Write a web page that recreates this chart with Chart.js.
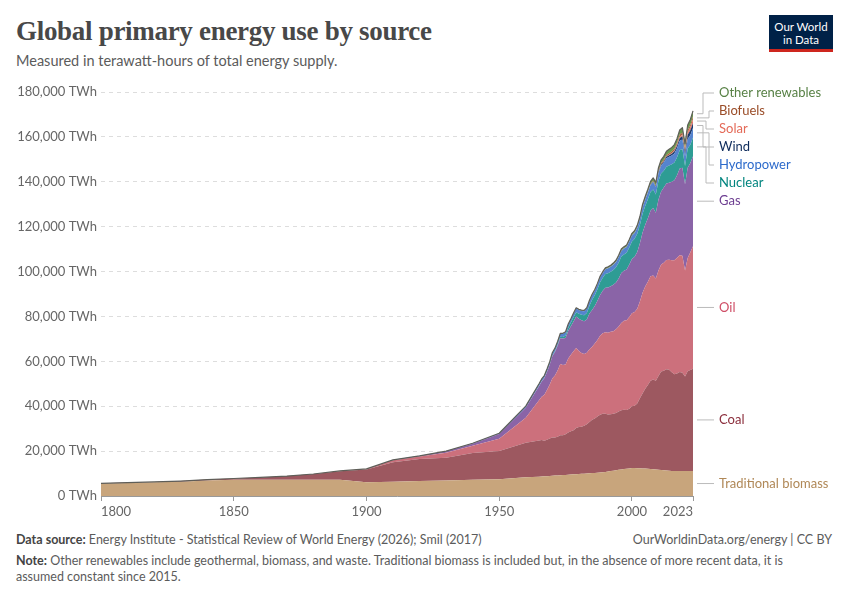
<!DOCTYPE html>
<html>
<head>
<meta charset="utf-8">
<script src="https://cdn.jsdelivr.net/npm/chart.js@4.4.1/dist/chart.umd.min.js"></script>
<style>
  body { margin: 0; background: #fff; font-family: Lato, sans-serif; }
  #page { position: relative; width: 850px; height: 600px; overflow: hidden; }
  #title { position: absolute; left: 16px; top: 16px; font-family: 'Liberation Serif', serif; font-weight: bold; font-size: 27px; color: #484848; letter-spacing: -0.3px; }
  #subtitle { position: absolute; left: 16px; top: 52px; font-size: 14.5px; color: #5b5b5b; }
  #logo { position: absolute; left: 769px; top: 15px; width: 64px; background: #002147; border-bottom: 3px solid #ce261e; color: #fff; font-size: 11.5px; line-height: 13px; text-align: center; padding-top: 5px; height: 29px; }
  #wrap { position: absolute; left: 0; top: 76px; }
  #source { position: absolute; left: 16px; top: 532px; font-size: 12.5px; color: #5b5b5b; }
  #url { position: absolute; right: 18px; top: 532px; font-size: 12.5px; color: #5b5b5b; }
  #note { position: absolute; left: 16px; top: 553px; width: 810px; font-size: 12.5px; line-height: 16px; color: #5b5b5b; }
  b { color: #444; }
</style>
</head>
<body>
<div id="page">
  <div id="title">Global primary energy use by source</div>
  <div id="subtitle">Measured in terawatt-hours of total energy supply.</div>
  <div id="logo">Our World<br>in Data</div>
  <div id="wrap"><canvas id="energyChart" width="850" height="445"></canvas></div>
  <div id="source"><b>Data source:</b> Energy Institute - Statistical Review of World Energy (2026); Smil (2017)</div>
  <div id="url">OurWorldinData.org/energy | CC BY</div>
  <div id="note"><b>Note:</b> Other renewables include geothermal, biomass, and waste. Traditional biomass is included but, in the absence of more recent data, it is assumed constant since 2015.</div>
</div>
<script>
// years: decadal (Smil) to 1960, then annual
const years = [1800, 1810, 1820, 1830, 1840, 1850, 1860, 1870, 1880, 1890, 1900, 1910, 1920, 1930, 1940, 1950, 1960,
  1965, 1966, 1967, 1968, 1969, 1970, 1971, 1972, 1973, 1974,
  1975, 1976, 1977, 1978, 1979, 1980, 1981, 1982, 1983, 1984,
  1985, 1986, 1987, 1988, 1989, 1990, 1991, 1992, 1993, 1994,
  1995, 1996, 1997, 1998, 1999, 2000, 2001, 2002, 2003, 2004,
  2005, 2006, 2007, 2008, 2009, 2010, 2011, 2012, 2013, 2014,
  2015, 2016, 2017, 2018, 2019, 2020, 2021, 2022, 2023];

// TWh
const tradBiomass = [5556, 5833, 6111, 6389, 6944, 7222, 7222, 7222, 7222, 7222, 6111, 6389, 6667, 6944, 7222, 7500, 8333,
  8600, 8680, 8760, 8840, 8920, 9000, 9080, 9160, 9240, 9320,
  9400, 9480, 9560, 9640, 9720, 9800, 9880, 9960, 10040, 10120,
  10200, 10300, 10400, 10500, 10600, 10700, 10900, 11100, 11300, 11500,
  11700, 11850, 12000, 12150, 12300, 12500, 12450, 12400, 12350, 12300,
  12200, 12100, 12000, 11900, 11800, 11700, 11600, 11500, 11400, 11250,
  11100, 11100, 11100, 11100, 11100, 11100, 11100, 11100, 11100];
const coal = [97, 128, 153, 264, 356, 569, 1061, 1642, 2542, 3856, 5728, 8656, 9833, 10122, 11889, 12603, 15442,
  16140, 16300, 15900, 16200, 16700, 17100, 17000, 17200, 17800, 17800,
  18100, 18800, 19300, 19600, 20600, 20900, 21000, 21300, 21900, 22800,
  23800, 24200, 25000, 25700, 26000, 25900, 25400, 25300, 25400, 25500,
  25900, 26400, 26400, 26200, 26600, 27500, 27800, 28800, 31200, 33400,
  35600, 37400, 39300, 40000, 39500, 41800, 43900, 44300, 45100, 45000,
  44000, 43200, 43500, 44200, 43800, 42100, 44500, 45000, 45600];
const oil = [0, 0, 0, 0, 0, 0, 0, 6, 33, 77, 181, 889, 1111, 2222, 3333, 5444, 11117,
  17900, 19200, 20500, 22200, 24000, 26300, 27600, 29600, 31800, 31300,
  31100, 33000, 34100, 35300, 35600, 33900, 32800, 32000, 31900, 32500,
  32500, 33400, 34100, 35200, 35900, 36400, 36400, 36800, 36700, 37300,
  37900, 38800, 39700, 39900, 40900, 41400, 41700, 42200, 43100, 44900,
  45500, 46000, 46600, 46300, 45600, 47000, 47600, 48100, 48700, 49000,
  49900, 50700, 51500, 52000, 52100, 47300, 50400, 52500, 54600];
const gas = [0, 0, 0, 0, 0, 0, 0, 0, 0, 0, 64, 161, 233, 603, 875, 2092, 4472,
  6300, 6800, 7300, 8000, 8700, 9900, 10500, 11000, 11500, 11700,
  11800, 12400, 12700, 13200, 14000, 14400, 14600, 14600, 14800, 15900,
  16400, 16700, 17500, 18200, 19000, 19800, 20200, 20300, 20700, 20800,
  21400, 22300, 22300, 22700, 23300, 24200, 24600, 25300, 26000, 26800,
  27500, 28200, 29200, 30100, 29300, 31600, 32600, 33500, 34000, 34300,
  35000, 35700, 36800, 38600, 39200, 38400, 40300, 39800, 40100];
const nuclear = [0, 0, 0, 0, 0, 0, 0, 0, 0, 0, 0, 0, 0, 0, 0, 0, 0,
  76, 100, 120, 160, 190, 240, 340, 480, 610, 770,
  1150, 1300, 1600, 1900, 1970, 2150, 2440, 2660, 2950, 3500,
  4550, 4850, 5150, 5600, 5750, 6060, 6350, 6400, 6600, 6800,
  7060, 7320, 7250, 7400, 7650, 7820, 8050, 8150, 8050, 8410,
  8390, 8480, 8330, 8300, 8120, 8390, 8030, 7480, 7540, 7700,
  7790, 7910, 8000, 8180, 8450, 8150, 8480, 8120, 8300];
const hydro = [0, 0, 0, 0, 0, 0, 0, 0, 0, 0, 0, 30, 60, 130, 190, 330, 690,
  920, 960, 990, 1040, 1100, 1170, 1210, 1270, 1310, 1420,
  1430, 1460, 1500, 1620, 1700, 1740, 1760, 1810, 1900, 1960,
  2000, 2030, 2050, 2110, 2100, 2160, 2220, 2230, 2350, 2380,
  2480, 2530, 2590, 2600, 2630, 2650, 2600, 2650, 2640, 2800,
  2920, 3030, 3080, 3250, 3250, 3440, 3500, 3660, 3780, 3890,
  3880, 4020, 4060, 4180, 4230, 4350, 4270, 4330, 4210];
const wind = [0, 0, 0, 0, 0, 0, 0, 0, 0, 0, 0, 0, 0, 0, 0, 0, 0,
  0, 0, 0, 0, 0, 0, 0, 0, 0, 0,
  0, 0, 0, 0, 0, 0, 0, 0, 0, 0,
  0, 0, 0, 0, 0, 4, 4, 5, 6, 7,
  8, 9, 12, 16, 21, 31, 38, 52, 63, 85,
  104, 133, 171, 220, 277, 346, 437, 523, 640, 712,
  831, 962, 1140, 1270, 1420, 1590, 1850, 2100, 2330];
const solar = [0, 0, 0, 0, 0, 0, 0, 0, 0, 0, 0, 0, 0, 0, 0, 0, 0,
  0, 0, 0, 0, 0, 0, 0, 0, 0, 0,
  0, 0, 0, 0, 0, 0, 0, 0, 0, 0,
  0, 0, 0, 0, 0, 0, 0, 0, 0, 0,
  0, 0, 0, 0, 0, 1, 1, 2, 2, 3,
  4, 6, 8, 12, 20, 34, 65, 100, 137, 190,
  256, 330, 450, 580, 700, 850, 1030, 1310, 1630];
const biofuels = [0, 0, 0, 0, 0, 0, 0, 0, 0, 0, 0, 0, 0, 0, 0, 0, 0,
  0, 0, 0, 0, 0, 0, 0, 0, 0, 0,
  5, 8, 10, 15, 20, 30, 40, 50, 60, 70,
  80, 85, 90, 90, 95, 100, 100, 100, 100, 100,
  105, 105, 105, 110, 110, 110, 120, 135, 160, 180,
  200, 250, 330, 420, 480, 560, 590, 600, 650, 720,
  760, 780, 820, 900, 980, 920, 1000, 1100, 1200];
const otherRenewables = [0, 0, 0, 0, 0, 0, 0, 0, 0, 0, 0, 0, 0, 0, 0, 0, 0,
  100, 105, 110, 115, 120, 130, 140, 150, 160, 170,
  180, 190, 200, 215, 230, 250, 270, 290, 320, 350,
  380, 410, 440, 470, 500, 530, 560, 590, 620, 650,
  680, 710, 740, 770, 800, 830, 860, 900, 950, 1000,
  1050, 1110, 1170, 1230, 1300, 1400, 1480, 1560, 1640, 1720,
  1800, 1880, 1960, 2050, 2150, 2200, 2350, 2400, 2500];

const xTicks = [1800, 1850, 1900, 1950, 2000, 2023];
const yTicks = [0, 20000, 40000, 60000, 80000, 100000, 120000, 140000, 160000, 180000];

const seriesNames = ['Traditional biomass', 'Coal', 'Oil', 'Gas', 'Nuclear', 'Hydropower', 'Wind', 'Solar', 'Biofuels', 'Other renewables'];
const seriesData = [tradBiomass, coal, oil, gas, nuclear, hydro, wind, solar, biofuels, otherRenewables];
const areaColors = ['#C8A57C', '#9D5860', '#CC707C', '#8A64A7', '#2E9C94', '#5584CF', '#1F3B6B', '#E8786C', '#A9633F', '#6B9A4F'];
const labelColors = ['#B08857', '#8B2E3C', '#CF4E66', '#6D3E91', '#00847E', '#2C6ACB', '#0F2C5C', '#E46A58', '#9A4C27', '#578145'];

const datasets = seriesNames.map((name, i) => ({
  label: name,
  data: years.map((yr, j) => ({ x: yr, y: seriesData[i][j] })),
  backgroundColor: areaColors[i],
  borderWidth: 0,
  pointRadius: 0,
  tension: 0,
  fill: i === 0 ? 'origin' : '-1'
}));

// dark outline along the top of the stack + right-hand labels
const topOutline = {
  id: 'topOutline',
  afterDatasetsDraw(chart) {
    const pts = chart.getDatasetMeta(seriesNames.length - 1).data;
    const ctx = chart.ctx;
    ctx.save();
    ctx.beginPath();
    pts.forEach((p, i) => i ? ctx.lineTo(p.x, p.y) : ctx.moveTo(p.x, p.y));
    ctx.strokeStyle = '#5e5e58';
    ctx.lineWidth = 1.2;
    ctx.lineJoin = 'round';
    ctx.stroke();
    ctx.restore();
  }
};

const endLabels = {
  id: 'endLabels',
  afterDraw(chart) {
    const ctx = chart.ctx, area = chart.chartArea, ys = chart.scales.y;
    const last = years.length - 1;
    const items = seriesNames.map((name, i) => {
      const top = chart.getDatasetMeta(i).data[last].y;
      const bottom = i === 0 ? ys.getPixelForValue(0) : chart.getDatasetMeta(i - 1).data[last].y;
      return { text: name, color: labelColors[i], target: (top + bottom) / 2 };
    });
    const gap = 18;
    let prev = Infinity;
    items.forEach(it => { it.y = Math.min(it.target, prev - gap); prev = it.y; });
    let lim = area.top + 1;
    for (let i = items.length - 1; i >= 0; i--) { items[i].y = Math.max(items[i].y, lim); lim = items[i].y + gap; }

    const x0 = area.right + 4, xl = area.right + 26;
    ctx.save();
    ctx.font = '13px Lato';
    ctx.textBaseline = 'middle';
    items.forEach((it, i) => {
      ctx.beginPath();
      ctx.strokeStyle = '#bbbbbb';
      ctx.lineWidth = 1;
      if (Math.abs(it.y - it.target) < 1) {
        ctx.moveTo(x0, it.y); ctx.lineTo(xl - 5, it.y);
      } else {
        const mid = x0 + 6 + (i % 3) * 3;
        ctx.moveTo(x0, it.target); ctx.lineTo(mid, it.target);
        ctx.lineTo(mid, it.y); ctx.lineTo(xl - 5, it.y);
      }
      ctx.stroke();
      ctx.fillStyle = it.color;
      ctx.fillText(it.text, xl, it.y);
    });
    ctx.restore();
  }
};

new Chart(document.getElementById('energyChart'), {
  type: 'line',
  data: { datasets: datasets },
  options: {
    responsive: false,
    animation: false,
    layout: { padding: { top: 16, right: 157, left: 0, bottom: 0 } },
    plugins: { legend: { display: false }, tooltip: { enabled: false } },
    elements: { line: { borderWidth: 0 } },
    scales: {
      x: {
        type: 'linear',
        min: 1800,
        max: 2023,
        afterBuildTicks: s => { s.ticks = xTicks.map(v => ({ value: v })); },
        afterFit: s => { s.height = 25; },
        ticks: {
          align: 'inner',
          autoSkip: false,
          maxRotation: 0,
          color: '#666',
          font: { family: 'Lato', size: 13 },
          padding: 3,
          callback: v => String(v)
        },
        grid: { drawOnChartArea: false, drawTicks: true, tickLength: 5, color: '#999' },
        border: { display: true, color: '#999' }
      },
      y: {
        stacked: true,
        min: 0,
        max: 180000,
        afterBuildTicks: s => { s.ticks = yTicks.map(v => ({ value: v })); },
        afterFit: s => { s.width = 101; },
        ticks: {
          color: '#666',
          font: { family: 'Lato', size: 13 },
          padding: 4,
          callback: v => v.toLocaleString('en-US') + ' TWh'
        },
        grid: { color: '#dddddd', drawTicks: false },
        border: { display: false, dash: [4, 4] }
      }
    }
  },
  plugins: [topOutline, endLabels]
});
</script>
</body>
</html>
